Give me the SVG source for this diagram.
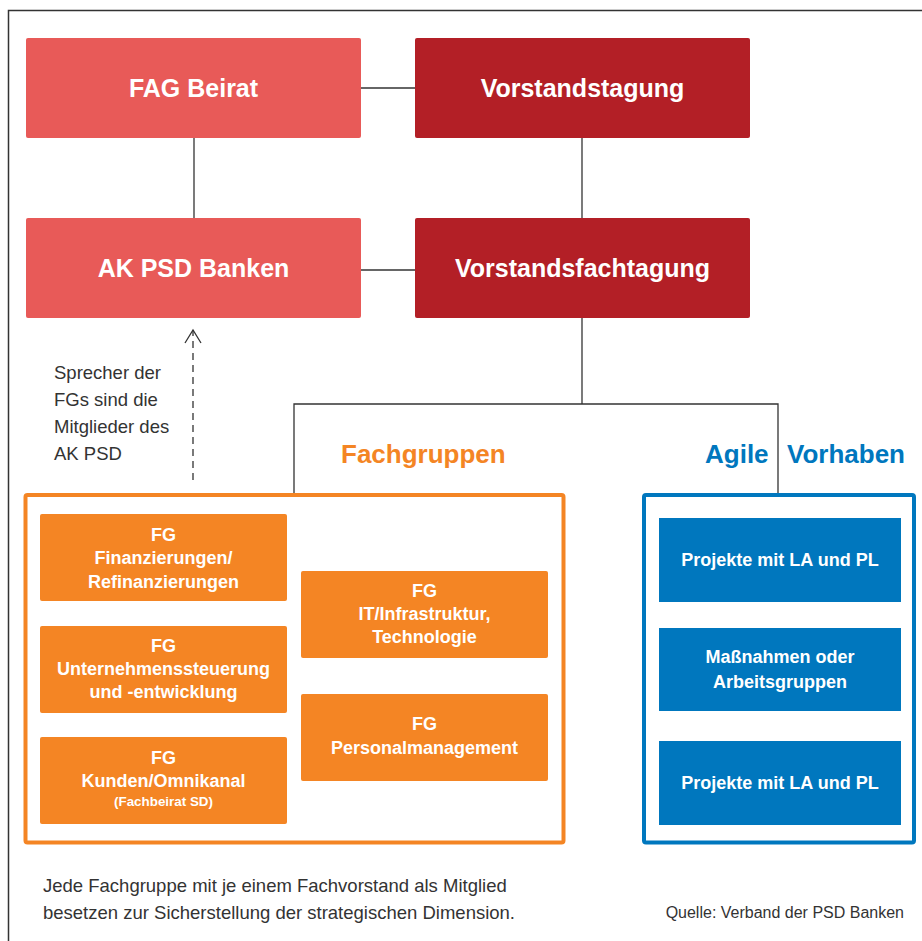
<svg xmlns="http://www.w3.org/2000/svg" width="922" height="941" viewBox="0 0 922 941">
<defs>
<style>
.t{font-family:"Liberation Sans",Arial,sans-serif;}
.big{font-size:25px;font-weight:bold;fill:#fff;text-anchor:middle;}
.fg{font-size:18px;font-weight:bold;fill:#fff;text-anchor:middle;}
.small{font-size:13.4px;font-weight:bold;fill:#fff;text-anchor:middle;}
.note{font-size:18.5px;fill:#333;}
.ln{stroke:#333;stroke-width:1.3;fill:none;}
.lr{fill:#e85a58;}
.dr{fill:#b31f26;}
.or{fill:#f48524;}
.bl{fill:#0077be;}
</style>
<marker id="open" viewBox="0 0 20 20" refX="16" refY="10" markerWidth="20" markerHeight="20" markerUnits="userSpaceOnUse" orient="auto">
<path d="M3,2 L16,10 L3,18" fill="none" stroke="#333" stroke-width="1.3"/>
</marker>
</defs>
<rect width="922" height="941" fill="#fff"/>
<rect x="8.5" y="10.5" width="1000" height="1000" fill="none" stroke="#333" stroke-width="1.5"/>

<g id="connectors">
<line class="ln" x1="361" y1="88" x2="415" y2="88"/>
<line class="ln" x1="194" y1="138" x2="194" y2="218"/>
<line class="ln" x1="582" y1="138" x2="582" y2="218"/>
<line class="ln" x1="361" y1="270" x2="415" y2="270"/>
<line class="ln" x1="582" y1="318" x2="582" y2="404"/>
<polyline class="ln" points="294,494 294,404 778,404 778,494"/>
<line class="ln" x1="193" y1="480" x2="193" y2="330" stroke-dasharray="7,5" marker-end="url(#open)"/>
</g>

<g id="fag-beirat"><rect class="lr" x="26" y="38" width="335" height="100" rx="2"/><text class="t big" x="193.5" y="97">FAG Beirat</text></g>
<g id="vorstandstagung"><rect class="dr" x="415" y="38" width="335" height="100" rx="2"/><text class="t big" x="582.5" y="97">Vorstandstagung</text></g>
<g id="ak-psd"><rect class="lr" x="26" y="218" width="335" height="100" rx="2"/><text class="t big" x="193.5" y="277">AK PSD Banken</text></g>
<g id="vorstandsfachtagung"><rect class="dr" x="415" y="218" width="335" height="100" rx="2"/><text class="t big" x="582.5" y="277">Vorstandsfachtagung</text></g>

<g id="note"><text class="t note" x="54" y="379">Sprecher der</text><text class="t note" x="54" y="406">FGs sind die</text><text class="t note" x="54" y="433">Mitglieder des</text><text class="t note" x="54" y="460">AK PSD</text></g>

<g id="fachgruppen">
<text class="t" x="341" y="463" font-size="26" font-weight="bold" fill="#f48524">Fachgruppen</text>
<rect x="25.5" y="495" width="538" height="347.5" fill="none" stroke="#f48524" stroke-width="4" rx="2"/>
</g>
<g id="agile-vorhaben">
<text class="t" x="705" y="463" font-size="26" font-weight="bold" fill="#0077be">Agile</text>
<text class="t" x="787" y="463" font-size="26" font-weight="bold" fill="#0077be">Vorhaben</text>
<rect x="644" y="495" width="270" height="347.5" fill="none" stroke="#0077be" stroke-width="4" rx="2"/>
</g>

<g id="fg-finanz"><rect class="or" x="40" y="514" width="247" height="87" rx="2"/><text class="t fg" x="163.5" y="541">FG</text><text class="t fg" x="163.5" y="564">Finanzierungen/</text><text class="t fg" x="163.5" y="588">Refinanzierungen</text></g>
<g id="fg-unternehmen"><rect class="or" x="40" y="626" width="247" height="87" rx="2"/><text class="t fg" x="163.5" y="652">FG</text><text class="t fg" x="163.5" y="675">Unternehmenssteuerung</text><text class="t fg" x="163.5" y="698">und -entwicklung</text></g>
<g id="fg-kunden"><rect class="or" x="40" y="737" width="247" height="87" rx="2"/><text class="t fg" x="163.5" y="764">FG</text><text class="t fg" x="163.5" y="787">Kunden/Omnikanal</text><text class="t small" x="163.5" y="806">(Fachbeirat SD)</text></g>
<g id="fg-it"><rect class="or" x="301" y="571" width="247" height="87" rx="2"/><text class="t fg" x="424.5" y="597">FG</text><text class="t fg" x="424.5" y="620">IT/Infrastruktur,</text><text class="t fg" x="424.5" y="643">Technologie</text></g>
<g id="fg-personal"><rect class="or" x="301" y="694" width="247" height="87" rx="2"/><text class="t fg" x="424.5" y="730">FG</text><text class="t fg" x="424.5" y="754">Personalmanagement</text></g>

<g id="projekte-1"><rect class="bl" x="659" y="518" width="242" height="84"/><text class="t fg" x="780" y="566">Projekte mit LA und PL</text></g>
<g id="massnahmen"><rect class="bl" x="659" y="628" width="242" height="83"/><text class="t fg" x="780" y="663">Maßnahmen oder</text><text class="t fg" x="780" y="688">Arbeitsgruppen</text></g>
<g id="projekte-2"><rect class="bl" x="659" y="741" width="242" height="84"/><text class="t fg" x="780" y="789">Projekte mit LA und PL</text></g>

<g id="footer">
<text class="t note" x="43" y="892">Jede Fachgruppe mit je einem Fachvorstand als Mitglied</text>
<text class="t note" x="43" y="919">besetzen zur Sicherstellung der strategischen Dimension.</text>
<text class="t" x="904" y="918" font-size="16" fill="#333" text-anchor="end">Quelle: Verband der PSD Banken</text>
</g>
</svg>
